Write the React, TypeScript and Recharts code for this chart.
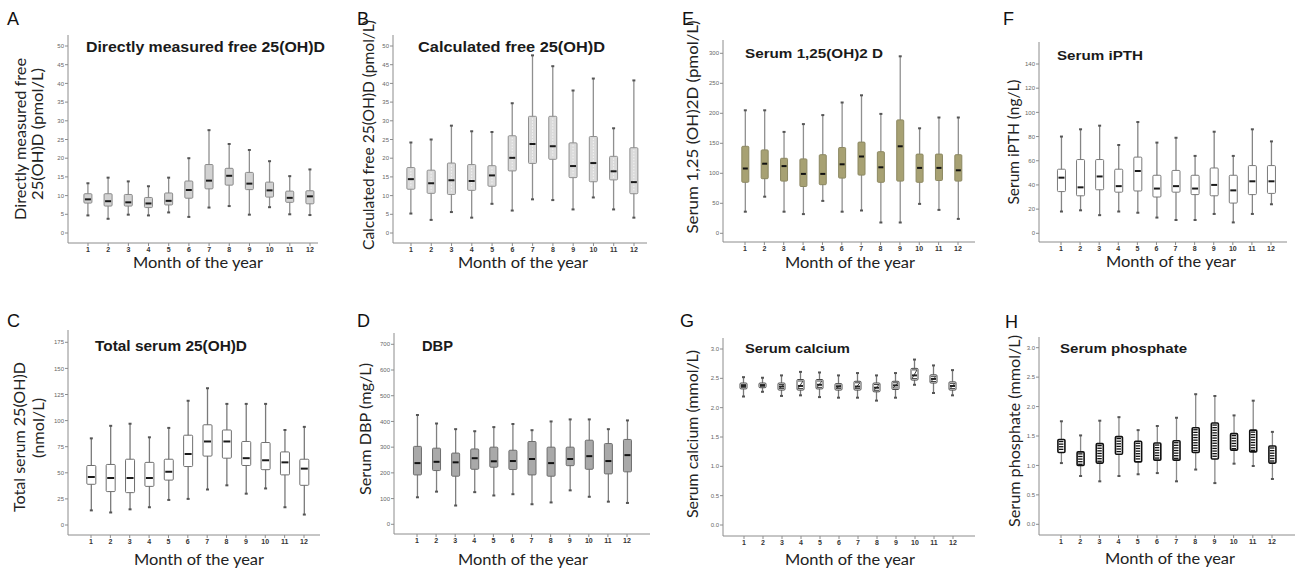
import React from "react";
import { Bar, ComposedChart, XAxis, YAxis } from "recharts";

// each row: [min, q1, median, q3, max] for months 1..12
type Stat = [number, number, number, number, number];

const months = [1, 2, 3, 4, 5, 6, 7, 8, 9, 10, 11, 12];

const directFree: Stat[] = [
  [4.7, 8.0, 9.0, 10.5, 13.3],
  [3.8, 7.2, 8.5, 10.5, 14.8],
  [4.9, 7.2, 8.2, 10.3, 13.8],
  [4.7, 6.8, 7.9, 9.5, 12.5],
  [5.5, 7.5, 8.6, 10.7, 14.8],
  [4.3, 9.3, 11.5, 13.9, 20.0],
  [6.8, 11.8, 14.0, 18.3, 27.5],
  [7.2, 12.8, 15.3, 17.3, 23.8],
  [4.9, 11.6, 13.2, 16.2, 22.2],
  [6.9, 9.6, 11.4, 13.6, 19.2],
  [5.0, 8.2, 9.4, 11.2, 15.2],
  [4.8, 7.8, 9.8, 11.3, 17.0],
];

const calcFree: Stat[] = [
  [5.2, 11.7, 14.4, 17.5, 24.2],
  [3.5, 10.6, 13.3, 16.8, 25.0],
  [5.6, 10.3, 14.1, 18.7, 28.7],
  [4.1, 11.4, 13.9, 18.3, 27.2],
  [7.8, 12.5, 15.4, 18.0, 27.0],
  [6.0, 16.6, 20.1, 26.0, 34.7],
  [9.0, 18.6, 23.8, 31.2, 47.5],
  [8.8, 19.7, 23.2, 31.2, 44.6],
  [6.3, 14.8, 17.9, 24.1, 38.1],
  [9.5, 13.7, 18.7, 25.8, 41.3],
  [6.3, 14.2, 16.5, 20.5, 28.0],
  [4.1, 10.5, 13.6, 22.8, 40.8],
];

const dihydroxyD: Stat[] = [
  [36, 85, 108, 145, 205],
  [61, 91, 116, 139, 205],
  [36, 87, 112, 125, 169],
  [32, 78, 99, 124, 182],
  [54, 81, 99, 131, 197],
  [36, 92, 115, 143, 218],
  [38, 97, 128, 152, 230],
  [18, 85, 110, 136, 199],
  [18, 87, 145, 189, 295],
  [49, 85, 109, 132, 175],
  [39, 88, 109, 132, 193],
  [24, 87, 105, 131, 193],
];

const ipth: Stat[] = [
  [18, 34.5, 46, 53, 80],
  [19, 31, 38, 61, 86],
  [15, 36, 47, 61, 89],
  [18, 34, 39, 53, 73],
  [17, 35, 51.5, 63, 92],
  [13, 30, 37, 48, 75],
  [11, 34, 39, 52, 79],
  [11, 32, 37, 48, 64],
  [16, 31, 40, 54, 84],
  [9, 25, 35.5, 48, 64],
  [16, 32, 43, 56, 86],
  [24, 33, 43, 56, 76],
];

const totalD: Stat[] = [
  [14, 39, 46, 57, 83],
  [12, 32, 45, 58, 95],
  [15, 31, 45, 63, 97],
  [17, 37, 45, 60, 84],
  [24, 43, 51, 63, 93],
  [25, 56, 68, 86, 119],
  [34, 66, 80, 96, 131],
  [38, 64, 80, 91, 116],
  [30, 57, 64, 80, 116],
  [35, 53, 62, 79, 116],
  [17, 48, 60, 70, 91],
  [10, 38, 54, 63, 94],
];

const dbp: Stat[] = [
  [105, 192, 238, 303, 425],
  [127, 209, 243, 296, 392],
  [73, 187, 241, 277, 370],
  [125, 214, 257, 293, 362],
  [112, 222, 245, 300, 378],
  [117, 213, 246, 288, 390],
  [78, 192, 254, 322, 366],
  [85, 187, 238, 300, 400],
  [132, 228, 254, 300, 408],
  [107, 214, 265, 327, 408],
  [88, 196, 246, 314, 370],
  [83, 204, 269, 330, 404],
];

const calcium: Stat[] = [
  [2.19, 2.32, 2.37, 2.42, 2.52],
  [2.27, 2.34, 2.38, 2.42, 2.51],
  [2.2, 2.3, 2.36, 2.42, 2.55],
  [2.21, 2.3, 2.37, 2.48, 2.61],
  [2.18, 2.32, 2.39, 2.48, 2.6],
  [2.17, 2.3, 2.36, 2.41, 2.55],
  [2.17, 2.3, 2.36, 2.45, 2.59],
  [2.12, 2.27, 2.34, 2.42, 2.55],
  [2.17, 2.31, 2.38, 2.45, 2.59],
  [2.39, 2.47, 2.55, 2.67, 2.82],
  [2.25, 2.42, 2.49, 2.56, 2.72],
  [2.21, 2.3, 2.37, 2.44, 2.64],
];

const phosphate: Stat[] = [
  [1.04, 1.22, 1.32, 1.44, 1.75],
  [0.82, 1.0, 1.1, 1.23, 1.51],
  [0.73, 1.04, 1.2, 1.37, 1.76],
  [0.82, 1.19, 1.32, 1.49, 1.82],
  [0.85, 1.06, 1.22, 1.41, 1.6],
  [0.87, 1.09, 1.22, 1.38, 1.67],
  [0.73, 1.09, 1.25, 1.42, 1.81],
  [0.93, 1.22, 1.42, 1.64, 2.21],
  [0.7, 1.11, 1.4, 1.72, 2.18],
  [1.03, 1.26, 1.4, 1.54, 1.85],
  [0.99, 1.23, 1.42, 1.6, 2.1],
  [0.77, 1.04, 1.17, 1.33, 1.57],
];

const ticksFree = [0, 5, 10, 15, 20, 25, 30, 35, 40, 45, 50];
const ticksDihydroxy = [0, 50, 100, 150, 200, 250, 300];
const ticksIpth = [0, 20, 40, 60, 80, 100, 120, 140];
const ticksTotal = [0, 25, 50, 75, 100, 125, 150, 175];
const ticksDbp = [0, 100, 200, 300, 400, 500, 600, 700];
const ticksMineral = [0, 0.5, 1.0, 1.5, 2.0, 2.5, 3.0];

type Look = {
  boxW: number;
  fill: string;
  stroke: string;
  whisker: string;
  median: string;
  pattern?: "dots" | "zigzag" | "ladder";
};

const looks: Record<string, Look> = {
  A: { boxW: 8, fill: "#d2d2d2", stroke: "#8a8a8a", whisker: "#8f8f8f", median: "#1a1a1a" },
  B: { boxW: 8, fill: "#dadada", stroke: "#8f8f8f", whisker: "#8f8f8f", median: "#1a1a1a", pattern: "dots" },
  C: { boxW: 9, fill: "#ffffff", stroke: "#6f6f6f", whisker: "#7a7a7a", median: "#1a1a1a" },
  D: { boxW: 8, fill: "#a9a9a9", stroke: "#6d6d6d", whisker: "#808080", median: "#111111" },
  E: { boxW: 7, fill: "#a7a173", stroke: "#8c8862", whisker: "#8f8f8f", median: "#111111" },
  F: { boxW: 8, fill: "#ffffff", stroke: "#7a7a7a", whisker: "#858585", median: "#1a1a1a" },
  G: { boxW: 7, fill: "#ffffff", stroke: "#4a4a4a", whisker: "#7a7a7a", median: "#222222", pattern: "zigzag" },
  H: { boxW: 7, fill: "#ffffff", stroke: "#111111", whisker: "#8a8a8a", median: "#111111", pattern: "ladder" },
};

type Panel = {
  id: string;
  title: string;
  titleX: number;
  titleY: number;
  titleW: number;
  titleSize: number;
  letterX: number;
  letterY: number;
  yLabel: { text: string; cx: number; cy: number; len: number }[];
  xLabelX: number;
  xLabelY: number;
  plot: [number, number, number, number]; // left, top, right, bottom in px
  yCal: [number, number, number, number]; // value0, px0, value1, px1
  xCal: [number, number]; // px of month 1, px of month 12
  ticks: number[];
  decimals: number;
  stats: Stat[];
};

const panels: Panel[] = [
  {
    id: "A", title: "Directly measured free 25(OH)D", titleX: 86, titleY: 52, titleW: 239, titleSize: 14,
    letterX: 7, letterY: 25,
    yLabel: [
      { text: "Directly measured free", cx: 19, cy: 139, len: 162 },
      { text: "25(OH)D  (pmol/L)", cx: 36, cy: 134, len: 132 },
    ],
    xLabelX: 198, xLabelY: 268,
    plot: [68, 35, 318, 243], yCal: [0, 233, 50, 46], xCal: [88, 310],
    ticks: ticksFree, decimals: 0, stats: directFree,
  },
  {
    id: "B", title: "Calculated free 25(OH)D", titleX: 418, titleY: 52, titleW: 187, titleSize: 14,
    letterX: 357, letterY: 25,
    yLabel: [{ text: "Calculated free 25(OH)D (pmol/L)", cx: 367, cy: 135, len: 230 }],
    xLabelX: 523, xLabelY: 268,
    plot: [393, 35, 647, 243], yCal: [0, 233, 50, 46], xCal: [411, 634],
    ticks: ticksFree, decimals: 0, stats: calcFree,
  },
  {
    id: "E", title: "Serum 1,25(OH)2 D", titleX: 745, titleY: 58, titleW: 138, titleSize: 13,
    letterX: 682, letterY: 25,
    yLabel: [{ text: "Serum 1,25 (OH)2D (pmol/L)", cx: 691, cy: 127, len: 213 }],
    xLabelX: 850, xLabelY: 268,
    plot: [723, 40, 975, 242], yCal: [0, 233.3, 300, 53.3], xCal: [745, 958],
    ticks: ticksDihydroxy, decimals: 0, stats: dihydroxyD,
  },
  {
    id: "F", title: "Serum iPTH", titleX: 1057, titleY: 60, titleW: 86, titleSize: 13,
    letterX: 1003, letterY: 25,
    yLabel: [{ text: "Serum iPTH (ng/L)", cx: 1012, cy: 142, len: 125 }],
    xLabelX: 1171, xLabelY: 267,
    plot: [1039, 42, 1287, 242], yCal: [0, 233.3, 140, 64], xCal: [1061, 1271],
    ticks: ticksIpth, decimals: 0, stats: ipth,
  },
  {
    id: "C", title: "Total serum 25(OH)D", titleX: 95, titleY: 351, titleW: 152, titleSize: 14,
    letterX: 7, letterY: 327,
    yLabel: [
      { text: "Total serum 25(OH)D", cx: 18, cy: 437, len: 150 },
      { text: "(nmol/L)", cx: 37, cy: 428, len: 60 },
    ],
    xLabelX: 199, xLabelY: 565,
    plot: [68, 330, 320, 535], yCal: [0, 525, 175, 342.3], xCal: [91, 304],
    ticks: ticksTotal, decimals: 0, stats: totalD,
  },
  {
    id: "D", title: "DBP", titleX: 422, titleY: 351, titleW: 31, titleSize: 14,
    letterX: 357, letterY: 327,
    yLabel: [{ text: "Serum DBP (mg/L)", cx: 364, cy: 429, len: 132 }],
    xLabelX: 523, xLabelY: 565,
    plot: [394, 333, 650, 534], yCal: [0, 524.3, 700, 344.3], xCal: [417, 627],
    ticks: ticksDbp, decimals: 0, stats: dbp,
  },
  {
    id: "G", title: "Serum calcium", titleX: 745, titleY: 353, titleW: 105, titleSize: 13,
    letterX: 680, letterY: 327,
    yLabel: [{ text: "Serum calcium (mmol/L)", cx: 691, cy: 434, len: 168 }],
    xLabelX: 850, xLabelY: 565,
    plot: [723, 338, 975, 536], yCal: [0, 525, 3, 349], xCal: [744, 953],
    ticks: ticksMineral, decimals: 1, stats: calcium,
  },
  {
    id: "H", title: "Serum phosphate", titleX: 1060, titleY: 353, titleW: 127, titleSize: 13,
    letterX: 1005, letterY: 328,
    yLabel: [{ text: "Serum phosphate  (mmol/L)", cx: 1013, cy: 431, len: 192 }],
    xLabelX: 1170, xLabelY: 564,
    plot: [1039, 337, 1295, 535], yCal: [0, 524.3, 3, 347.7], xCal: [1061, 1272],
    ticks: ticksMineral, decimals: 1, stats: phosphate,
  },
];

function BoxGlyph(props: any) {
  const { x, y, width, height, payload, look } = props;
  if (!payload) return null;
  const l: Look = look;
  const top = Math.min(y, y + height);
  const bottom = Math.max(y, y + height);
  const span = payload.max - payload.min || 1;
  const toY = (v: number) => top + ((payload.max - v) / span) * (bottom - top);
  const cx = x + width / 2;
  const bx = cx - l.boxW / 2;
  const y3 = toY(payload.q3);
  const y1 = toY(payload.q1);
  const ym = toY(payload.med);
  const parts: React.ReactNode[] = [];

  if (l.pattern === "ladder") {
    for (let yy = y3 + 2; yy < y1 - 1; yy += 2.6) {
      parts.push(
        <line key={`r${yy}`} x1={bx + 1} x2={bx + l.boxW - 1.5} y1={yy} y2={yy} stroke="#111" strokeWidth={1.3} />,
      );
    }
  }
  if (l.pattern === "zigzag") {
    parts.push(
      <polyline
        key="z"
        points={`${bx + 1},${y3 + 1.5} ${bx + l.boxW - 1},${y3 + 1.5} ${bx + 1},${y1 - 1.5} ${bx + l.boxW - 1},${y1 - 1.5}`}
        fill="none"
        stroke="#444"
        strokeWidth={1}
      />,
    );
  }
  if (l.pattern === "dots") {
    parts.push(
      <line key="d" x1={cx} x2={cx} y1={y3 + 2} y2={y1 - 2} stroke="#f4f4f4" strokeWidth={1} strokeDasharray="1.5 1.5" />,
    );
  }

  return (
    <g>
      <line x1={cx} x2={cx} y1={top} y2={bottom} stroke={l.whisker} strokeWidth={1.3} />
      <line x1={cx - 1.5} x2={cx + 1.5} y1={top} y2={top} stroke="#555" strokeWidth={2} />
      <line x1={cx - 1.5} x2={cx + 1.5} y1={bottom} y2={bottom} stroke="#555" strokeWidth={2} />
      <rect
        x={bx}
        y={y3}
        width={l.boxW}
        height={Math.max(1, y1 - y3)}
        rx={1}
        fill={l.fill}
        stroke={l.stroke}
        strokeWidth={l.pattern === "ladder" ? 1.6 : 1}
      />
      {parts}
      {l.pattern !== "ladder" && (
        <line x1={bx + 1} x2={bx + l.boxW - 1} y1={ym} y2={ym} stroke={l.median} strokeWidth={2} />
      )}
    </g>
  );
}

const AXIS_W = 45;
const AXIS_H = 20;
const PAD_T = 5;
const PAD_R = 2;

function BoxPanel({ p }: { p: Panel }) {
  const [L, T, R, B] = p.plot;
  const [v0, py0, v1, py1] = p.yCal;
  const ppu = (py0 - py1) / (v1 - v0);
  const yDomain = [v0 - (B - py0) / ppu, v1 + (py1 - T) / ppu];
  const [x1, x12] = p.xCal;
  const ppm = (x12 - x1) / 11;
  const xDomain = [1 - (x1 - L) / ppm, 12 + (R - x12) / ppm];
  const data = months.map((m, i) => {
    const [min, q1, med, q3, max] = p.stats[i];
    return { month: m, min, q1, med, q3, max };
  });
  const look = looks[p.id];
  const width = R - L + AXIS_W + PAD_R;
  const height = B - T + PAD_T + AXIS_H;

  return (
    <div style={{ position: "absolute", left: L - AXIS_W, top: T - PAD_T, width, height }}>
      <ComposedChart width={width} height={height} data={data} margin={{ top: PAD_T, right: PAD_R, left: 0, bottom: 0 }}>
        <XAxis
          dataKey="month"
          type="number"
          domain={xDomain}
          allowDataOverflow
          ticks={months}
          interval={0}
          height={AXIS_H}
          tickSize={3}
          tickMargin={1}
          axisLine={{ stroke: "#8c8c8c" }}
          tickLine={{ stroke: "#8c8c8c" }}
          tick={{ fontSize: 7, fill: "#333", fontWeight: 700, fontFamily: "Liberation Sans" }}
        />
        <YAxis
          type="number"
          domain={yDomain}
          allowDataOverflow
          ticks={p.ticks}
          interval={0}
          width={AXIS_W}
          tickSize={3}
          tickMargin={1}
          axisLine={{ stroke: "#8c8c8c" }}
          tickLine={{ stroke: "#8c8c8c" }}
          tickFormatter={(v: number) => v.toFixed(p.decimals)}
          tick={{ fontSize: 6, fill: "#666", fontFamily: "Liberation Sans" }}
        />
        <Bar
          dataKey={(d: any) => [d.min, d.max]}
          barSize={10}
          isAnimationActive={false}
          shape={(props: any) => <BoxGlyph {...props} look={look} />}
        />
      </ComposedChart>
    </div>
  );
}

export default function App() {
  return (
    <div
      style={{
        position: "absolute",
        left: 0,
        top: 0,
        width: 1296,
        height: 570,
        overflow: "hidden",
        background: "#fff",
      }}
    >
      {panels.map((p) => (
        <BoxPanel key={p.id} p={p} />
      ))}
      <svg width={1296} height={570} style={{ position: "absolute", left: 0, top: 0, pointerEvents: "none" }}>
        {panels.map((p) => (
          <g key={p.id}>
            <text x={p.letterX} y={p.letterY} fontSize={18} fontFamily="Liberation Sans" fill="#111">
              {p.id}
            </text>
            <text
              x={p.titleX}
              y={p.titleY}
              fontSize={p.titleSize}
              fontWeight={700}
              fontFamily="Liberation Sans"
              fill="#1a1a1a"
              textLength={p.titleW}
              lengthAdjust="spacingAndGlyphs"
            >
              {p.title}
            </text>
            {p.yLabel.map((yl) => (
              <text
                key={yl.text}
                x={yl.cx}
                y={yl.cy}
                transform={`rotate(-90 ${yl.cx} ${yl.cy})`}
                textAnchor="middle"
                dominantBaseline="central"
                fontSize={16}
                fontFamily="Lato"
                fill="#222"
                textLength={yl.len}
                lengthAdjust="spacingAndGlyphs"
              >
                {yl.text}
              </text>
            ))}
            <text
              x={p.xLabelX}
              y={p.xLabelY}
              textAnchor="middle"
              fontSize={15}
              fontFamily="Lato"
              fill="#222"
              textLength={130}
              lengthAdjust="spacingAndGlyphs"
            >
              Month of the year
            </text>
          </g>
        ))}
      </svg>
    </div>
  );
}
